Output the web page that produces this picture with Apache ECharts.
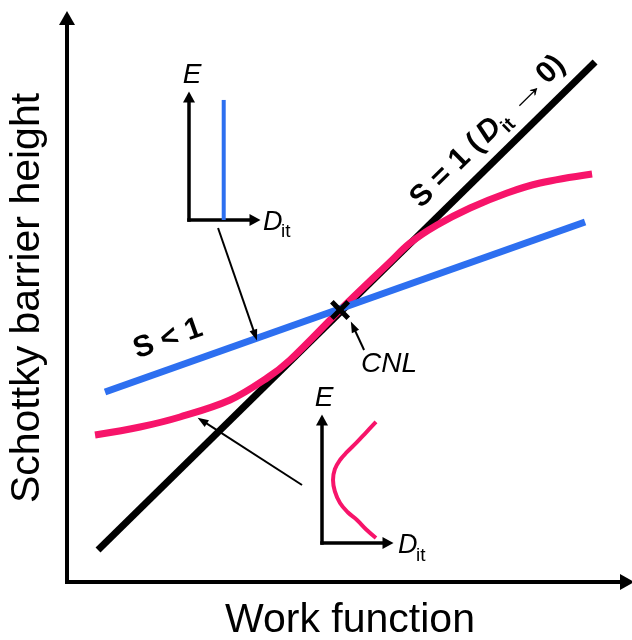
<!DOCTYPE html>
<html><head><meta charset="utf-8">
<script src="https://cdn.jsdelivr.net/npm/echarts@6/dist/echarts.min.js"></script>
<style>html,body{margin:0;padding:0;background:#fff}#c{width:632px;height:640px}</style>
</head><body><div id="c"></div>
<script>
// Main chart (work function vs barrier height), arbitrary units
const idealLine = [[5.49, 5.61], [93.45, 91.23]];            // S = 1
const pinningLine = [[6.73, 33.33], [91.68, 63.16]];         // S < 1
const realLine = [[4.96, 25.79], [12.92, 27.19], [20.0, 28.95], [28.85, 31.93], [35.4, 35.79],
  [39.47, 38.95], [48.32, 47.72], [57.17, 56.14], [60.71, 59.47], [65.49, 62.63],
  [71.33, 65.61], [77.88, 68.25], [83.72, 70.0], [92.92, 71.58]];
const cnlPoint = [[48.32, 47.72]];
const pointerArrows = [
  [[26.73, 62.1], [33.3, 43.3]],
  [[41.59, 17.02], [23.93, 28.3]],
  [[52.57, 40.7], [50.64, 44.82]]
];
// Insets (Dit vs E)
const insetBlue = [[0.526, 0], [0.526, 0.976]];
const insetPink = [[0.818, 0.984], [0.67, 0.9], [0.53, 0.82], [0.38, 0.74], [0.273, 0.675],
  [0.195, 0.6], [0.167, 0.512], [0.195, 0.42], [0.273, 0.325], [0.39, 0.25],
  [0.53, 0.187], [0.67, 0.11], [0.818, 0.041]];

const BLUE = '#2d6ff0', PINK = '#f7146a';
const FF = '"Liberation Sans", Arial, sans-serif';

function axisLine(w, size) {
  return { show: true, onZero: false, symbol: ['none', 'triangle'], symbolSize: size,
    lineStyle: { color: '#000', width: w, cap: 'square' } };
}
function vAxis(grid, min, max, w, size) {
  return { type: 'value', gridIndex: grid, min: min, max: max, axisLine: axisLine(w, size),
    axisTick: { show: false }, axisLabel: { show: false }, splitLine: { show: false } };
}
function txt(text, x, y, font, align, rot, sx) {
  return { type: 'text', x: x, y: y, rotation: rot || 0, scaleX: sx || 1, silent: true,
    style: { text: text, font: font, fill: '#000', align: align || 'center', verticalAlign: 'middle',
      textAlign: align || 'center', textVerticalAlign: 'middle' } };
}
const xPath = 'path://M0,3.6L3.6,0L10,6.4L16.4,0L20,3.6L13.6,10L20,16.4L16.4,20L10,13.6L3.6,20L0,16.4L6.4,10Z';

const option = {
  animation: false,
  grid: [
    { left: 67, top: 18, right: 5, bottom: 58 },
    { left: 189, top: 97, width: 66, height: 123 },
    { left: 322, top: 420, width: 66, height: 123 }
  ],
  xAxis: [vAxis(0, 0, 99.1, 4, [16, 14]), vAxis(1, 0, 1, 3.5, [12, 11]), vAxis(2, 0, 1, 3.5, [12, 11])],
  yAxis: [vAxis(0, 0, 98.95, 4, [16, 14]), vAxis(1, 0, 1, 3.5, [12, 11]), vAxis(2, 0, 1, 3.5, [12, 11])],
  series: [
    { type: 'line', xAxisIndex: 0, yAxisIndex: 0, data: idealLine, symbol: 'none', z: 2,
      lineStyle: { color: '#000', width: 7 },
      markLine: { silent: true, symbol: ['none', 'triangle'], symbolSize: [8, 11], label: { show: false },
        lineStyle: { color: '#000', width: 2, type: 'solid' },
        data: pointerArrows.map(a => [{ coord: a[0] }, { coord: a[1] }]) } },
    { type: 'line', xAxisIndex: 0, yAxisIndex: 0, data: realLine, symbol: 'none', smooth: 0.35,
      z: 3, lineStyle: { color: PINK, width: 7 } },
    { type: 'line', xAxisIndex: 0, yAxisIndex: 0, data: pinningLine, symbol: 'none', z: 4,
      lineStyle: { color: BLUE, width: 7 } },
    { type: 'scatter', xAxisIndex: 0, yAxisIndex: 0, data: cnlPoint, symbol: xPath, symbolSize: 20, z: 6,
      itemStyle: { color: '#000', opacity: 1 } },
    { type: 'line', xAxisIndex: 1, yAxisIndex: 1, data: insetBlue, symbol: 'none',
      lineStyle: { color: BLUE, width: 4 } },
    { type: 'line', xAxisIndex: 2, yAxisIndex: 2, data: insetPink, symbol: 'none', smooth: 0.4,
      lineStyle: { color: PINK, width: 4 } }
  ],
  graphic: [
    txt('Work function', 350, 621, '41px ' + FF),
    txt('Schottky barrier height', 28, 298, '41px ' + FF, 'center', Math.PI / 2),
    txt('E', 192, 75, 'italic 28px ' + FF),
    txt('D', 263, 222, 'italic 27px ' + FF, 'left'),
    txt('it', 281, 232, '19px ' + FF, 'left'),
    txt('E', 324, 398, 'italic 28px ' + FF),
    txt('D', 398, 545, 'italic 27px ' + FF, 'left'),
    txt('it', 416, 556, '19px ' + FF, 'left'),
    txt('CNL', 361, 364, 'italic 28px ' + FF, 'left'),
    txt('S < 1', 168, 339, 'bold 30px ' + FF, 'center', 19.5 * Math.PI / 180),
    { type: 'group', x: 423, y: 211, rotation: 44.5 * Math.PI / 180, children: [
      txt('S = 1 (', 0, -11, 'bold 30px ' + FF, 'left'),
      txt('D', 93, -11, 'italic bold 30px ' + FF, 'left'),
      txt('it', 115, -1, 'bold 19px ' + FF, 'left'),
      txt('\u2192', 134, -11, '30px ' + FF, 'left', 0, 1.4),
      txt('0)', 177, -11, 'bold 30px ' + FF, 'left')
    ] }
  ]
};
const chart = echarts.init(document.getElementById('c'));
chart.setOption(option);
</script>
</body></html>
